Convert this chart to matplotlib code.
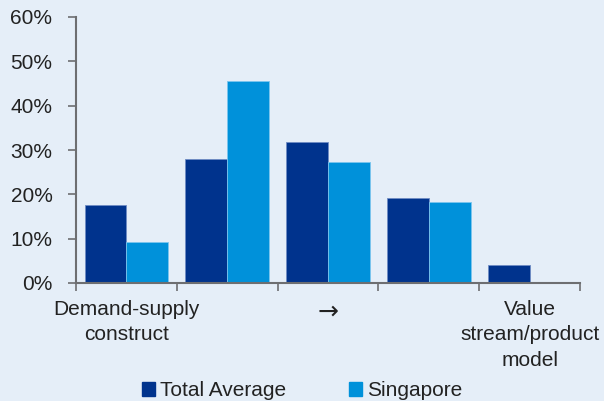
import numpy as np
import matplotlib
matplotlib.use("Agg")
import matplotlib.pyplot as plt
from matplotlib.patches import Patch

categories = ["Demand-supply\nconstruct", "", "\u2192", "", "Value\nstream/product\nmodel"]
total_average = [17.6, 27.9, 31.8, 19.1, 4.0]
singapore = [9.2, 45.5, 27.3, 18.3, 0.0]
series_names = ["Total Average", "Singapore"]

bg = "#e5eef8"
dark = "#00338d"
light = "#0091da"
grey = "#6d6e71"
txt = "#222222"

plt.rcParams["font.family"] = ["Liberation Sans", "DejaVu Sans"]
fs = 15

fig = plt.figure(figsize=(6.04, 4.01), dpi=100, facecolor=bg)
ax = fig.add_axes([76 / 604, 1 - 283 / 401, (580 - 76) / 604, (283 - 17) / 401])
ax.set_facecolor(bg)

x = np.arange(len(categories))
w = 0.415
ax.bar(x - w / 2, total_average, w, color=dark, edgecolor="#6f8cc4", linewidth=0.6)
sg = [v if v > 0 else np.nan for v in singapore]
ax.bar(x + w / 2, sg, w, color=light, edgecolor="#7cc6ee", linewidth=0.6)

ax.set_xlim(-0.5, len(categories) - 0.5)
ax.set_ylim(0, 60)
ax.set_yticks(range(0, 61, 10))
ax.set_yticklabels([f"{v}%" for v in range(0, 61, 10)], fontsize=fs, color=txt)

ax.set_xticks(np.arange(-0.5, len(categories)), minor=False)
ax.set_xticklabels([])
ax.set_xticks(x, minor=True)
labels = ax.set_xticklabels(categories, minor=True, fontsize=fs, color=txt, linespacing=1.45)
for lab in labels:
    if lab.get_text() == "\u2192":
        lab.set_family("DejaVu Sans")
        lab.set_fontsize(18)
ax.tick_params(axis="x", which="minor", length=0, pad=12)
ax.tick_params(axis="x", which="major", length=6, width=1.2, color=grey, direction="out")
ax.tick_params(axis="y", length=6, width=1.2, color=grey, direction="out", pad=11)

for s in ["top", "right"]:
    ax.spines[s].set_visible(False)
for s in ["left", "bottom"]:
    ax.spines[s].set_color(grey)
    ax.spines[s].set_linewidth(1.5)

handles = [Patch(facecolor=dark, edgecolor=dark), Patch(facecolor=light, edgecolor=light)]
fig.legend(handles, series_names, loc="lower center", bbox_to_anchor=(0.5, -0.045), ncol=2,
           frameon=False, fontsize=fs, handlelength=0.63, handleheight=0.63,
           handletextpad=0.25, columnspacing=3.0, labelcolor=txt)

fig.savefig("out.png", dpi=100, facecolor=bg)
